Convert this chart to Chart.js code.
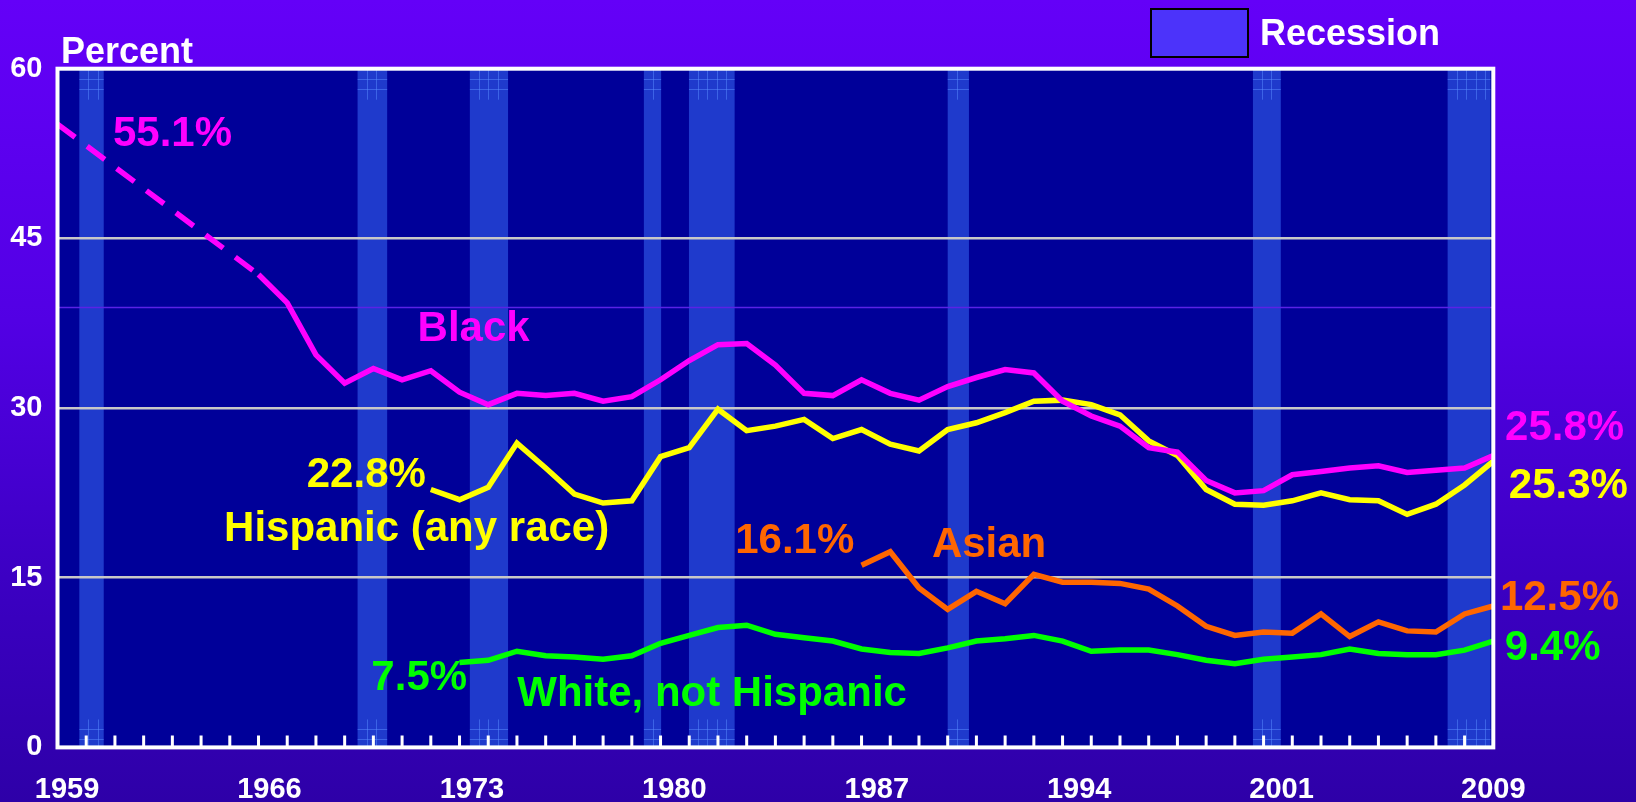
<!DOCTYPE html>
<html>
<head>
<meta charset="utf-8">
<script src="https://cdn.jsdelivr.net/npm/chart.js@4.4.1/dist/chart.umd.min.js"></script>
<style>
html,body{margin:0;padding:0;width:1636px;height:802px;overflow:hidden;
  background:linear-gradient(to bottom,#6400f8 0%,#5200e4 40%,#3a00c0 75%,#2e00a8 100%);}
#wrap{position:relative;width:1636px;height:802px;}
canvas{display:block;}
</style>
</head>
<body>
<div id="wrap"><canvas id="c" width="1636" height="802"></canvas></div>
<script>
// ---------- DATA ----------
const years = [1959,1960,1961,1962,1963,1964,1965,1966,1967,1968,1969,1970,1971,1972,1973,1974,1975,1976,1977,1978,1979,1980,1981,1982,1983,1984,1985,1986,1987,1988,1989,1990,1991,1992,1993,1994,1995,1996,1997,1998,1999,2000,2001,2002,2003,2004,2005,2006,2007,2008,2009];

const blackRate = [55.1,null,null,null,null,null,null,
  41.8,39.3,34.7,32.2,33.5,32.5,33.3,31.4,30.3,31.3,31.1,31.3,30.6,31.0,32.5,34.2,35.6,35.7,33.8,31.3,31.1,
  32.5,31.3,30.7,31.9,32.7,33.4,33.1,30.6,29.3,28.4,26.5,26.1,23.6,22.5,22.7,24.1,24.4,24.7,24.9,24.3,24.5,24.7,25.8];

const hispanicRate = [null,null,null,null,null,null,null,null,null,null,null,null,null,
  22.8,21.9,23.0,26.9,24.7,22.4,21.6,21.8,25.7,26.5,29.9,28.0,28.4,29.0,27.3,28.1,26.8,26.2,28.1,28.7,29.6,30.6,
  30.7,30.3,29.4,27.1,25.8,22.8,21.5,21.4,21.8,22.5,21.9,21.8,20.6,21.5,23.2,25.3];

const asianRate = [null,null,null,null,null,null,null,null,null,null,null,null,null,null,null,null,null,null,null,null,null,null,null,null,null,null,null,null,
  16.1,17.3,14.1,12.2,13.8,12.7,15.3,14.6,14.6,14.5,14.0,12.5,10.7,9.9,10.2,10.1,11.8,9.8,11.1,10.3,10.2,11.8,12.5];

const whiteRate = [null,null,null,null,null,null,null,null,null,null,null,null,null,null,
  7.5,7.7,8.5,8.1,8.0,7.8,8.1,9.2,9.9,10.6,10.8,10.0,9.7,9.4,8.7,8.4,8.3,8.8,9.4,9.6,9.9,9.4,8.5,8.6,8.6,8.2,
  7.7,7.4,7.8,8.0,8.2,8.7,8.3,8.2,8.2,8.6,9.4];

// recession shading (in plotted-year units)
const recessionStart = [1959.76,1969.45,1973.36,1979.42,1980.99,1990.00,2000.63,2007.41];
const recessionEnd   = [1960.61,1970.48,1974.69,1980.02,1982.58,1990.74,2001.60,2008.90];

const xTickLabels = [1959,1966,1973,1980,1987,1994,2001,2009];
const yTicks = [0,15,30,45,60];

// ---------- STYLE / LAYOUT ----------
const FONT = '"Liberation Sans", Arial, Helvetica, sans-serif';
const C_BLACK = '#ff00ff', C_HISP = '#ffff00', C_ASIAN = '#ff6600', C_WHITE = '#00ff00';

// first year with annual Black data after the 1959 point (the dashed gap ends here)
const blackGapEnd = years[blackRate.findIndex((v, i) => i > 0 && v !== null)];

// text annotations: [text, color, x(year), y(percent)] -> left/baseline anchored
const notes = [
  ['55.1%', C_BLACK, 1960.93, 53.13],
  ['Black', C_BLACK, 1971.54, 35.89],
  ['22.8%', C_HISP, 1967.68, 23.02],
  ['Hispanic (any race)', C_HISP, 1964.80, 18.28],
  ['16.1%', C_ASIAN, 1982.60, 17.21],
  ['Asian', C_ASIAN, 1989.45, 16.83],
  ['7.5%', C_WHITE, 1969.93, 5.1],
  ['White, not Hispanic', C_WHITE, 1975.01, 3.66],
  ['25.8%', C_BLACK, 2009.41, 27.18],
  ['25.3%', C_HISP, 2009.54, 22.05],
  ['12.5%', C_ASIAN, 2009.23, 12.15],
  ['9.4%', C_WHITE, 2009.40, 7.73]
];

function pts(vals){ return years.map((yr,i)=>({x:yr,y:vals[i]})); }

const backPlugin = {
  id:'back',
  beforeDraw(chart){
    const {ctx, chartArea:a, scales:{x,y}} = chart;
    ctx.save();
    ctx.fillStyle = '#000099';
    ctx.fillRect(a.left, a.top, a.right-a.left, a.bottom-a.top);
    recessionStart.forEach((s,i)=>{
      const x0 = x.getPixelForValue(s), x1 = x.getPixelForValue(recessionEnd[i]);
      ctx.fillStyle = '#1f3acc';
      ctx.fillRect(x0, a.top, x1-x0, a.bottom-a.top);
      ctx.strokeStyle = 'rgba(90,140,255,0.5)';
      ctx.lineWidth = 1;
      ctx.beginPath();
      for (const [yt,yb] of [[a.top, a.top+31],[a.bottom-28, a.bottom]]) {
        for (let xx = x0+9; xx < x1-3; xx += 9.5) { ctx.moveTo(Math.round(xx)+0.5, yt); ctx.lineTo(Math.round(xx)+0.5, yb); }
        for (let yy = yt+10; yy < yb-2; yy += 10) { ctx.moveTo(x0, Math.round(yy)+0.5); ctx.lineTo(x1, Math.round(yy)+0.5); }
      }
      ctx.stroke();
    });
    // faint violet rule
    const yr = y.getPixelForValue(38.9);
    ctx.strokeStyle = '#5a22e6'; ctx.lineWidth = 1.5;
    ctx.beginPath(); ctx.moveTo(a.left, yr); ctx.lineTo(a.right, yr); ctx.stroke();
    ctx.restore();
  },
  afterDatasetsDraw(chart){
    const {ctx, chartArea:a, scales:{x}} = chart;
    ctx.save();
    ctx.strokeStyle = '#ffffff';
    ctx.lineWidth = 4;
    ctx.strokeRect(a.left, a.top, a.right-a.left, a.bottom-a.top);
    ctx.lineWidth = 3;
    ctx.beginPath();
    for (let yr = x.min+1; yr < x.max; yr++) {
      const px = x.getPixelForValue(yr);
      ctx.moveTo(px, a.bottom-12); ctx.lineTo(px, a.bottom);
    }
    ctx.stroke();
    ctx.restore();
  },
  afterDraw(chart){
    const {ctx, scales:{x,y}} = chart;
    ctx.save();
    ctx.textBaseline = 'alphabetic';
    ctx.textAlign = 'left';
    ctx.font = 'bold 42px ' + FONT;
    notes.forEach(([t,c,vx,vy])=>{
      ctx.fillStyle = c;
      ctx.fillText(t, x.getPixelForValue(vx), y.getPixelForValue(vy));
    });
    ctx.font = 'bold 36px ' + FONT;
    ctx.fillStyle = '#ffffff';
    ctx.fillText('Percent', 61, 63);
    // legend
    ctx.fillStyle = '#4c33fa';
    ctx.fillRect(1151, 9, 97, 48);
    ctx.strokeStyle = '#000000'; ctx.lineWidth = 2;
    ctx.strokeRect(1151, 9, 97, 48);
    ctx.fillStyle = '#ffffff';
    ctx.fillText('Recession', 1260, 45);
    ctx.restore();
  }
};

const lineDs = (label, vals, color, extra) => Object.assign({
  label, data: pts(vals), borderColor: color, backgroundColor: color,
  borderWidth: 5.5, pointRadius: 0, tension: 0, fill: false, spanGaps: false
}, extra || {});

new Chart(document.getElementById('c'), {
  type: 'line',
  data: {
    datasets: [
      lineDs('White, not Hispanic', whiteRate, C_WHITE),
      lineDs('Asian', asianRate, C_ASIAN),
      lineDs('Black', blackRate, C_BLACK, {
        spanGaps: true,
        segment: { borderDash: ctx => (ctx.p1 && ctx.p1.parsed && ctx.p1.parsed.x <= blackGapEnd ? [22,15] : undefined) }
      }),
      lineDs('Hispanic (any race)', hispanicRate, C_HISP)
    ]
  },
  options: {
    responsive: false, animation: false, devicePixelRatio: 1,
    layout: { padding: { top: 68.7, right: 142.7, bottom: 0, left: 0 } },
    plugins: { legend: { display: false }, tooltip: { enabled: false } },
    scales: {
      x: { type: 'linear', min: years[0], max: years[years.length-1], display: false },
      xl: {
        type: 'linear', axis: 'x', position: 'bottom', min: 1958.67, max: 2008.32,
        grid: { display: false, drawTicks: false }, border: { display: false },
        ticks: { autoSkip: false, maxRotation: 0, color: '#ffffff', padding: 25,
                 font: { family: FONT, size: 29, weight: 'bold' },
                 callback: (v, i) => String(xTickLabels[i]) },
        afterBuildTicks: s => { s.ticks = xTickLabels.map(v => ({ value: Math.min(v, s.max) })); },
        afterFit: s => { s.height = 54.6; }
      },
      y: {
        min: 0, max: 60,
        afterBuildTicks: s => { s.ticks = yTicks.map(v => ({ value: v })); },
        ticks: { color: '#ffffff', padding: 15, font: { family: FONT, size: 29, weight: 'bold' } },
        grid: { drawTicks: false, lineWidth: 2.5,
                color: c => (c.tick && (c.tick.value === 0 || c.tick.value === 60)) ? 'rgba(0,0,0,0)' : '#c8c8c8' },
        border: { display: false },
        afterFit: s => { s.width = 57.5; }
      }
    }
  },
  plugins: [backPlugin]
});
</script>
</body>
</html>
